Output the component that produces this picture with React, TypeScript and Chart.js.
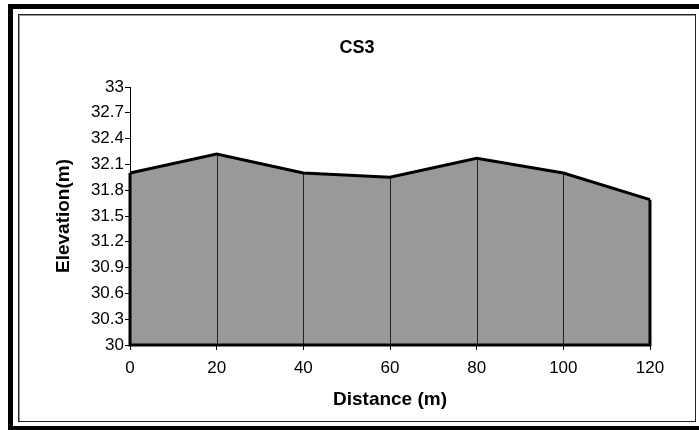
import React, { useEffect, useRef } from "react";
import { Chart, registerables } from "chart.js";

Chart.register(...registerables);

const DISTANCES = [0, 20, 40, 60, 80, 100, 120];
const ELEVATIONS = [32.0, 32.22, 32.0, 31.95, 32.17, 32.0, 31.69];
const Y_MIN = 30;
const Y_MAX = 33;
const Y_STEP = 0.3;
const X_MIN = 0;
const X_MAX = 120;
const X_STEP = 20;
const TITLE = "CS3";
const X_TITLE = "Distance (m)";
const Y_TITLE = "Elevation(m)";

const FONT = "'Liberation Sans', Arial, sans-serif";

const outlinePlugin = {
  id: "areaOutline",
  afterDatasetsDraw(chart: any) {
    const meta = chart.getDatasetMeta(0);
    const pts = meta.data;
    if (!pts || !pts.length) return;
    const yScale = chart.scales.y;
    const base = yScale.getPixelForValue(Y_MIN);
    const ctx = chart.ctx;
    ctx.save();
    ctx.strokeStyle = "#222";
    ctx.lineWidth = 1;
    for (let i = 1; i < pts.length - 1; i++) {
      const x = Math.round(pts[i].x) + 0.5;
      ctx.beginPath();
      ctx.moveTo(x, pts[i].y + 1);
      ctx.lineTo(x, base);
      ctx.stroke();
    }
    ctx.strokeStyle = "#000";
    ctx.lineWidth = 3;
    ctx.lineJoin = "miter";
    ctx.beginPath();
    ctx.moveTo(pts[0].x, pts[0].y);
    ctx.lineTo(pts[0].x, base);
    ctx.lineTo(pts[pts.length - 1].x, base);
    ctx.lineTo(pts[pts.length - 1].x, pts[pts.length - 1].y);
    ctx.stroke();
    ctx.restore();
  },
};

export default function App() {
  const ref = useRef<HTMLCanvasElement | null>(null);
  useEffect(() => {
    if (!ref.current) return;
    const chart = new Chart(ref.current, {
      type: "line",
      data: {
        datasets: [
          {
            data: DISTANCES.map((d, i) => ({ x: d, y: ELEVATIONS[i] })),
            borderColor: "#000",
            borderWidth: 3,
            backgroundColor: "#999999",
            fill: "start",
            pointRadius: 0,
            tension: 0,
            clip: false as any,
          },
        ],
      },
      options: {
        responsive: false,
        animation: false,
        layout: { padding: 0 },
        plugins: {
          legend: { display: false },
          tooltip: { enabled: false },
          title: {
            display: true,
            text: TITLE,
            color: "#000",
            font: { family: FONT, size: 18, weight: "bold" },
            padding: { top: 22.5, bottom: 27.9 },
          },
        },
        scales: {
          x: {
            type: "linear",
            min: X_MIN,
            max: X_MAX,
            afterFit: (s: any) => {
              s.height = 76;
            },
            ticks: {
              stepSize: X_STEP,
              color: "#000",
              padding: 8,
              maxRotation: 0,
              font: { family: FONT, size: 17 },
            },
            grid: {
              display: true,
              drawOnChartArea: false,
              drawTicks: true,
              tickLength: 5,
              tickColor: "#000",
            },
            border: { display: true, color: "#000", width: 1 },
            title: {
              display: true,
              text: X_TITLE,
              color: "#000",
              font: { family: FONT, size: 19, weight: "bold" },
              padding: { top: 0, bottom: 9.6 },
            },
          },
          y: {
            type: "linear",
            min: Y_MIN,
            max: Y_MAX,
            afterFit: (s: any) => {
              s.width = 111;
            },
            ticks: {
              stepSize: Y_STEP,
              color: "#000",
              padding: 1,
              font: { family: FONT, size: 17 },
              callback: (v: any) => String(Math.round(Number(v) * 10) / 10),
            },
            grid: {
              display: true,
              drawOnChartArea: false,
              drawTicks: true,
              tickLength: 5,
              tickColor: "#000",
            },
            border: { display: true, color: "#000", width: 1 },
            title: {
              display: true,
              text: Y_TITLE,
              color: "#000",
              font: { family: FONT, size: 19, weight: "bold" },
              padding: { top: 33.6, bottom: 0 },
            },
          },
          yRight: {
            type: "linear",
            position: "right",
            display: true,
            min: Y_MIN,
            max: Y_MAX,
            afterFit: (s: any) => {
              s.width = 45;
            },
            ticks: { display: false },
            grid: { display: false, drawTicks: false },
            border: { display: false },
            title: { display: false },
          },
        },
      },
      plugins: [outlinePlugin],
    });
    return () => chart.destroy();
  }, []);

  return (
    <div
      style={{
        position: "fixed",
        left: 0,
        top: 0,
        width: 699,
        height: 430,
        overflow: "hidden",
        background: "#fff",
      }}
    >
      <div
        style={{
          position: "absolute",
          left: 8,
          top: 4,
          width: 720,
          height: 427,
          boxSizing: "border-box",
          border: "5px solid #000",
        }}
      />
      <div
        style={{
          position: "absolute",
          left: 18,
          top: 14,
          width: 678,
          height: 408,
          boxSizing: "border-box",
          border: "1px solid #222",
          boxShadow: "inset 1px 1px 0 #999",
          background: "#fff",
        }}
      >
        <canvas
          ref={ref}
          width={676}
          height={406}
          style={{ position: "absolute", left: 0, top: 0, width: 676, height: 406 }}
        />
      </div>
    </div>
  );
}
